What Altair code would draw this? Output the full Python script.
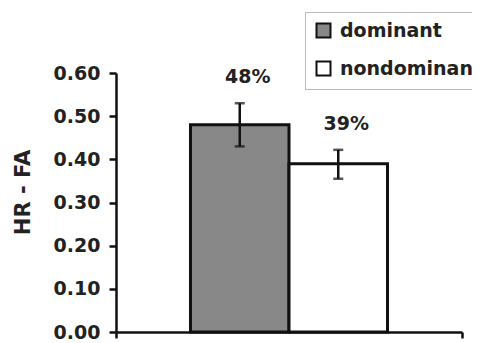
import altair as alt
import pandas as pd

series = ["dominant", "nondominant"]
values = [0.48, 0.39]
err_lo = [0.43, 0.355]
err_hi = [0.53, 0.422]
labels = ["48%", "39%"]
group = ["", ""]
y_ticks = [0.0, 0.1, 0.2, 0.3, 0.4, 0.5, 0.6]
fills = ["#888888", "#ffffff"]

df = pd.DataFrame({"group": group, "series": series, "value": values,
                   "lo": err_lo, "hi": err_hi, "label": labels})

FONT = "DejaVu Sans"

x_enc = alt.X("group:N", title=None,
              scale=alt.Scale(paddingInner=0, paddingOuter=0),
              axis=alt.Axis(labels=False, tickBand="extent", ticks=True, tickSize=6,
                            tickWidth=2.5, tickColor="#111", domainColor="#111",
                            domainWidth=2.5, title=None))
xo_enc = alt.XOffset("series:N", scale=alt.Scale(paddingInner=0, paddingOuter=0.756))
y_scale = alt.Scale(domain=[0, 0.6], nice=False)

base = alt.Chart(df).encode(x=x_enc, xOffset=xo_enc)

bars = base.mark_bar(stroke="#111", strokeWidth=3).encode(
    y=alt.Y("value:Q", scale=y_scale, title="HR - FA",
            axis=alt.Axis(values=y_ticks, format=".2f", grid=False,
                          labelFont=FONT, labelFontSize=19, labelFontWeight="bold",
                          labelColor="#222", labelPadding=9,
                          tickSize=7, tickWidth=2.5, tickColor="#111",
                          domainColor="#111", domainWidth=2.5,
                          titleFont=FONT, titleFontSize=21, titleFontWeight="bold",
                          titleColor="#222", titlePadding=20, titleY=119)),
    fill=alt.Fill("series:N", scale=alt.Scale(domain=series, range=fills),
                  legend=alt.Legend(title=None, orient="none", legendX=189, legendY=-61,
                                    symbolType="square", symbolSize=196,
                                    symbolStrokeColor="#111", symbolStrokeWidth=2,
                                    labelFont=FONT, labelFontSize=19,
                                    labelFontWeight="bold", labelColor="#222",
                                    labelOffset=7, labelLimit=400, rowPadding=15,
                                    padding=9, strokeColor="#777", fillColor="white")),
)

rules = base.mark_rule(color="#111", strokeWidth=2.5).encode(
    y=alt.Y("lo:Q", scale=y_scale), y2="hi:Q")

caps_lo = base.mark_tick(color="#111", thickness=2.5, size=10, orient="horizontal").encode(
    y=alt.Y("lo:Q", scale=y_scale))
caps_hi = base.mark_tick(color="#111", thickness=2.5, size=10, orient="horizontal").encode(
    y=alt.Y("hi:Q", scale=y_scale))

text = base.mark_text(font=FONT, fontSize=19, fontWeight="bold", color="#222",
                      baseline="middle", dy=-26, dx=8).encode(
    y=alt.Y("hi:Q", scale=y_scale), text="label:N")

chart = alt.layer(bars, rules, caps_lo, caps_hi, text).properties(
    width=346, height=259,
    autosize=alt.AutoSizeParams(type="none"),
    padding={"left": 108, "top": 65, "right": 10, "bottom": 11},
    background="white",
).configure_view(stroke=None).configure_legend(strokeDash=[1, 1])

chart.save("out.html", embed_options={"renderer": "svg", "actions": False})
